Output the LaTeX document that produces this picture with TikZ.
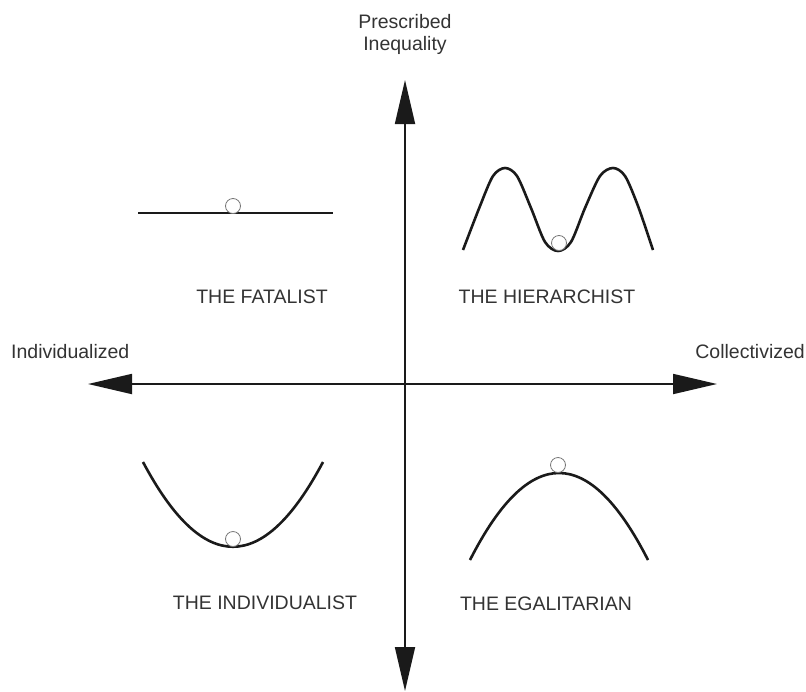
\documentclass[tikz,border=0pt]{standalone}
\usepackage{fontspec}
\setmainfont{Liberation Sans}
\usetikzlibrary{arrows.meta}
\definecolor{mInk}{HTML}{1A1A1A}
\definecolor{mText}{HTML}{333333}
\definecolor{mBall}{HTML}{777777}
\begin{document}
\begin{tikzpicture}[x=1pt, y=-1pt,
      lbl/.style={text=mText, font=\fontsize{19.5}{22}\selectfont, inner sep=0pt},
      axis/.style={line width=1.8pt, mInk,
                   {Triangle[length=44pt, width=20pt]}-{Triangle[length=44pt, width=20pt]}},
      curve/.style={line width=2.6pt, mInk},
      ball/.style={draw=mBall, fill=white, line width=0.8pt}]
    \useasboundingbox (0,0) rectangle (806,691);
    % axes
    \coordinate (top)   at (405,80);
    \coordinate (bot)   at (405,691);
    \coordinate (left)  at (88,384);
    \coordinate (right) at (717,384);
    \draw[axis] (bot) -- (top);
    \draw[axis] (left) -- (right);
    \node[lbl, align=center] (grid) at (405,34) {Prescribed\\Inequality};
    \node[lbl, anchor=west]  (indv) at (11,352) {Individualized};
    \node[lbl, anchor=east]  (coll) at (805,352) {Collectivized};
    % the four landscapes
    \draw[curve] (138,213) -- (333,213);
    \draw[ball] (233,206) circle (7.5);
    \draw[curve] plot[smooth] coordinates {(463,250) (480,206) (493,176) (505,168)
        (517,176) (531,208) (545,242) (558,251) (571,242) (585,208) (600,176)
        (613,168) (625,176) (638,206) (653,250)};
    \draw[ball] (559,243) circle (7.5);
    \draw[curve] (143,462) .. controls (203,575) and (263,575) .. (323,462);
    \draw[ball] (233,539) circle (7.5);
    \draw[curve] (470,560) .. controls (529,444) and (589,444) .. (648,560);
    \draw[ball] (558,465) circle (7.5);
    \node[lbl] (fat) at (262,297) {THE FATALIST};
    \node[lbl] (hie) at (547,297) {THE HIERARCHIST};
    \node[lbl] (ind) at (265,603) {THE INDIVIDUALIST};
    \node[lbl] (ega) at (546,604) {THE EGALITARIAN};
  \end{tikzpicture}
\end{document}
